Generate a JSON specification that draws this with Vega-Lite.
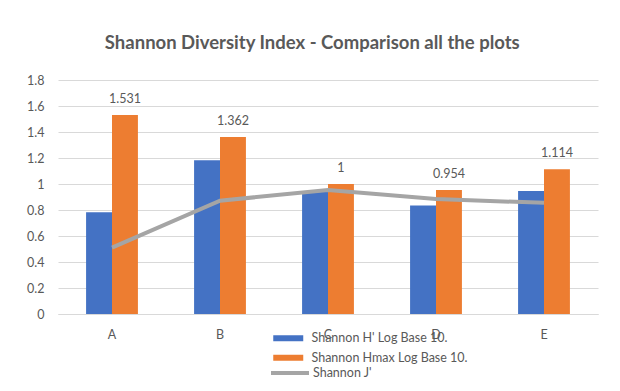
{
  "$schema": "https://vega.github.io/schema/vega-lite/v6.json",
  "width": 540,
  "height": 234,
  "autosize": {"type": "none"},
  "padding": {"left": 58, "top": 80, "right": 22, "bottom": 77},
  "background": "white",
  "title": {
    "text": "Shannon Diversity Index - Comparison all the plots",
    "anchor": "middle",
    "frame": "bounds",
    "font": "Lato",
    "fontSize": 18.5,
    "fontWeight": "bold",
    "color": "#595959",
    "offset": 22
  },
  "config": {
    "view": {"stroke": null},
    "axis": {
      "labelFont": "Lato",
      "labelFontSize": 12.5,
      "labelColor": "#595959",
      "labelOverlap": false,
      "ticks": false,
      "tickSize": 0,
      "title": null
    },
    "axisY": {
      "values": [0, 0.2, 0.4, 0.6, 0.8, 1, 1.2, 1.4, 1.6, 1.8],
      "format": ".1~f",
      "domain": false,
      "grid": true,
      "gridColor": "#D9D9D9",
      "labelPadding": 14
    },
    "legend": {
      "labelFont": "Lato",
      "labelFontSize": 12.5,
      "labelColor": "#595959",
      "labelLimit": 400
    }
  },
  "datasets": {
    "bars": [
      {"plot": "A", "series": "Shannon H' Log Base 10.", "value": 0.783},
      {"plot": "A", "series": "Shannon Hmax Log Base 10.", "value": 1.531},
      {"plot": "B", "series": "Shannon H' Log Base 10.", "value": 1.182},
      {"plot": "B", "series": "Shannon Hmax Log Base 10.", "value": 1.362},
      {"plot": "C", "series": "Shannon H' Log Base 10.", "value": 0.943},
      {"plot": "C", "series": "Shannon Hmax Log Base 10.", "value": 1},
      {"plot": "D", "series": "Shannon H' Log Base 10.", "value": 0.834},
      {"plot": "D", "series": "Shannon Hmax Log Base 10.", "value": 0.954},
      {"plot": "E", "series": "Shannon H' Log Base 10.", "value": 0.946},
      {"plot": "E", "series": "Shannon Hmax Log Base 10.", "value": 1.114}
    ],
    "evenness": [
      {"plot": "A", "value": 0.51},
      {"plot": "B", "value": 0.872},
      {"plot": "C", "value": 0.953},
      {"plot": "D", "value": 0.884},
      {"plot": "E", "value": 0.855}
    ]
  },
  "layer": [
    {
      "data": {"name": "bars"},
      "mark": {"type": "bar"},
      "encoding": {
        "x": {
          "field": "plot",
          "type": "nominal",
          "scale": {"paddingInner": 0.52, "paddingOuter": 0.26},
          "axis": {"labelAngle": 0, "labelPadding": 14, "domainColor": "#D9D9D9", "grid": false}
        },
        "xOffset": {
          "field": "series",
          "type": "nominal",
          "sort": ["Shannon H' Log Base 10.", "Shannon Hmax Log Base 10."],
          "scale": {"paddingInner": 0, "paddingOuter": 0}
        },
        "y": {
          "field": "value",
          "type": "quantitative",
          "scale": {"domain": [0, 1.8], "nice": false}
        },
        "color": {
          "field": "series",
          "type": "nominal",
          "scale": {
            "domain": ["Shannon H' Log Base 10.", "Shannon Hmax Log Base 10."],
            "range": ["#4472C4", "#ED7D31"]
          },
          "legend": {
            "title": null,
            "orient": "none",
            "legendX": 224,
            "legendY": 252,
            "direction": "vertical",
            "symbolType": "M-3,-0.6H3V0.6H-3Z",
            "symbolSize": 100,
            "symbolStrokeWidth": 0,
            "labelOffset": 17,
            "rowPadding": 6.5
          }
        }
      }
    },
    {
      "data": {"name": "bars"},
      "transform": [{"filter": "datum.series === 'Shannon Hmax Log Base 10.'"}],
      "mark": {"type": "text", "font": "Lato", "fontSize": 12.5, "color": "#595959", "baseline": "middle", "dy": -16},
      "encoding": {
        "x": {"field": "plot", "type": "nominal"},
        "xOffset": {"field": "series", "type": "nominal"},
        "y": {"field": "value", "type": "quantitative"},
        "text": {"field": "value", "type": "quantitative", "format": ".4~r"}
      }
    },
    {
      "data": {"name": "evenness"},
      "mark": {"type": "line", "strokeWidth": 4},
      "encoding": {
        "x": {"field": "plot", "type": "nominal"},
        "y": {"field": "value", "type": "quantitative"},
        "stroke": {
          "datum": "Shannon J'",
          "scale": {"range": ["#A5A5A5"]},
          "legend": {
            "title": null,
            "orient": "none",
            "legendX": 225,
            "legendY": 286,
            "symbolType": "M-3.8,0H3.8",
            "symbolSize": 100,
            "symbolStrokeWidth": 4,
            "labelOffset": 16
          }
        }
      }
    }
  ]
}
